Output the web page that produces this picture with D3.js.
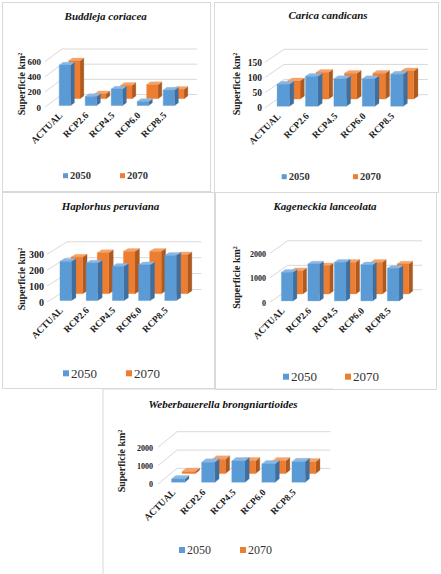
<!DOCTYPE html>
<html>
<head>
<meta charset="utf-8">
<script src="https://cdnjs.cloudflare.com/ajax/libs/d3/7.8.5/d3.min.js"></script>
<style>
  html, body { margin: 0; padding: 0; background: #fff; }
  svg { display: block; font-family: "Liberation Serif", "Times New Roman", serif; }
</style>
</head>
<body>
<div id="chart"></div>
<script>
// categories / series shared by every panel
const categories = ["ACTUAL", "RCP2.6", "RCP4.5", "RCP6.0", "RCP8.5"];
const seriesNames = ["2050", "2070"];
const species = [
    "Buddleja coriacea",
    "Carica candicans",
    "Haplorhus peruviana",
    "Kageneckia lanceolata",
    "Weberbauerella brongniartioides"
];

// superficie km2 (one row per species)
const values2050 = [
    [535, 120, 220, 55, 205],
    [73, 99, 91, 91, 106],
    [247, 237, 216, 226, 285],
    [1170, 1510, 1580, 1470, 1335],
    [180, 1090, 1160, 1000, 1120]
];
const values2070 = [
    [500, 65, 175, 185, 125],
    [60, 88, 85, 85, 93],
    [230, 258, 266, 266, 245],
    [950, 1155, 1290, 1290, 1225],
    [110, 780, 690, 690, 640]
];
const axisMax = [600, 150, 300, 2000, 2000];
const tickStep = [200, 50, 100, 1000, 1000];

// where each little chart sits on the page
const layout = [
    { box: [2, 2, 208, 189], xL: 50, wallX: 45, yB: 107, W: 130, H: 45.5, DX: 17, DY: 12.5, labelRight: 41, tickFont: 9,
      title: [105.7, 15.7], axisTitle: [21, 84], legend: [63, 120, 175.7], legendBold: true, legendFont: 10.5 },
    { box: [214, 2, 224, 190], xL: 267, wallX: 265, yB: 107.7, W: 142, H: 45.4, DX: 19, DY: 13, labelRight: 262, tickFont: 9.5,
      title: [328, 15], axisTitle: [236, 84], legend: [281.7, 353, 176.7], legendBold: true, legendFont: 10.5 },
    { box: [2, 192, 212, 196], xL: 50.4, wallX: 47, yB: 302, W: 131, H: 47.7, DX: 20, DY: 12.5, labelRight: 44, tickFont: 10,
      title: [110.5, 206], axisTitle: [21, 279], legend: [63, 126, 373.3], legendBold: false, legendFont: 13 },
    { box: [215, 192, 221, 197], xL: 272, wallX: 270, yB: 302.3, W: 132.5, H: 49, DX: 17.5, DY: 12.5, labelRight: 266, tickFont: 8,
      title: [325, 206], axisTitle: [236, 277.5], legend: [283, 345, 376.7], legendBold: false, legendFont: 13 },
    { box: [103, 389, 230, 190], xL: 161, wallX: 158, yB: 484, W: 150.5, H: 36.7, DX: 19, DY: 15.6, labelRight: 153, tickFont: 8,
      title: [223, 404.3], axisTitle: [121, 461], legend: [179, 240, 550], legendBold: false, legendFont: 12, openBox: true }
];

const colors = {
    "2050": { front: "#5B9BD5", side: "#3F6F9F", top: "#8CB7E2" },
    "2070": { front: "#ED7D31", side: "#AD591F", top: "#F3A46C" }
};
const gridColor = "#d9d9d9";

const svg = d3.select("#chart").append("svg")
    .attr("width", 441)
    .attr("height", 574);

const drawPanel = (i) => {
    const p = layout[i];
    const g = svg.append("g");

    // panel frame
    const [bx, by, bw, bh] = p.box;
    if (p.openBox) {
        g.append("path").attr("d", `M${bx},${by + bh}V${by}H${bx + bw}`)
            .attr("fill", "none").attr("stroke", gridColor);
    } else {
        g.append("rect").attr("x", bx + 0.5).attr("y", by + 0.5).attr("width", bw).attr("height", bh)
            .attr("fill", "none").attr("stroke", gridColor);
    }

    var x = d3.scaleBand().domain(categories).range([p.xL, p.xL + p.W]).paddingInner(0.56).paddingOuter(0.28);
    var y = d3.scaleLinear().domain([0, axisMax[i]]).range([p.yB, p.yB - p.H]);
    var depth = d3.scaleBand().domain(seriesNames).range([0, 1]).paddingInner(0.6).paddingOuter(0.2);
    const proj = (px, d, v) => [px + d * p.DX, y(v) - d * p.DY];
    const ticks = d3.range(0, axisMax[i] + 1, tickStep[i]);

    // side wall + back wall gridlines
    g.append("g").selectAll("path").data(ticks).join("path")
        .attr("d", v => `M${proj(p.wallX, 0, v)}L${proj(p.wallX, 1, v)}L${proj(p.xL + p.W, 1, v)}`)
        .attr("fill", "none")
        .attr("stroke", gridColor)
        .attr("stroke-width", 1);

    // 3d columns, back row (2070) first
    const rows = [values2050[i], values2070[i]];
    seriesNames.slice().reverse().forEach(s => {
        const vals = rows[seriesNames.indexOf(s)];
        const d0 = depth(s), d1 = d0 + depth.bandwidth();
        const bars = g.append("g").selectAll("g").data(categories).join("g");
        const faces = (c, k) => {
            const v = vals[categories.indexOf(c)];
            const x0 = x(c), x1 = x0 + x.bandwidth();
            if (k === "front") return [proj(x0, d0, 0), proj(x1, d0, 0), proj(x1, d0, v), proj(x0, d0, v)];
            if (k === "side") return [proj(x1, d0, 0), proj(x1, d1, 0), proj(x1, d1, v), proj(x1, d0, v)];
            return [proj(x0, d0, v), proj(x1, d0, v), proj(x1, d1, v), proj(x0, d1, v)];
        };
        ["side", "top", "front"].forEach(k => {
            bars.append("path")
                .attr("d", c => "M" + faces(c, k).join("L") + "Z")
                .attr("fill", colors[s][k])
                .attr("stroke", colors[s][k])
                .attr("stroke-width", 0.3);
        });
    });

    // value axis
    g.append("g")
        .attr("transform", `translate(${p.labelRight},0)`)
        .call(d3.axisLeft(y).tickValues(ticks).tickFormat(d3.format("d")).tickSize(0).tickPadding(0))
        .call(a => a.select(".domain").remove())
        .attr("font-family", null)
        .attr("font-size", p.tickFont)
        .attr("font-weight", "bold")
        .selectAll("text").attr("fill", "#222").attr("dy", "0.34em");

    // category labels, rotated
    g.append("g").selectAll("text").data(categories).join("text")
        .attr("transform", c => `translate(${x(c) + x.bandwidth() / 2},${p.yB + 9}) rotate(-45)`)
        .attr("text-anchor", "end")
        .attr("font-size", 9.5)
        .attr("font-weight", "bold")
        .attr("fill", "#222")
        .text(c => c);

    // axis title
    g.append("text")
        .attr("transform", `translate(${p.axisTitle[0]},${p.axisTitle[1]}) rotate(-90)`)
        .attr("text-anchor", "middle")
        .attr("dy", "0.35em")
        .attr("font-size", 10)
        .attr("font-weight", "bold")
        .attr("fill", "#222")
        .text("Superficie km²");

    // title
    g.append("text")
        .attr("x", p.title[0]).attr("y", p.title[1])
        .attr("dy", "0.35em")
        .attr("text-anchor", "middle")
        .attr("font-size", 11)
        .attr("font-weight", "bold")
        .attr("font-style", "italic")
        .attr("fill", "#111")
        .text(species[i]);

    // legend
    const sq = p.legendBold ? 5 : 6;
    const leg = g.append("g").selectAll("g").data(seriesNames).join("g")
        .attr("transform", (s, j) => `translate(${p.legend[j]},${p.legend[2]})`);
    leg.append("rect").attr("x", 0).attr("y", -sq / 2).attr("width", sq).attr("height", sq)
        .attr("fill", s => colors[s].front);
    leg.append("text").attr("x", sq + 2).attr("dy", "0.35em")
        .attr("font-size", p.legendFont)
        .attr("font-weight", p.legendBold ? "bold" : "normal")
        .attr("fill", "#333")
        .text(s => s);
};

species.forEach((s, i) => drawPanel(i));
</script>
</body>
</html>
